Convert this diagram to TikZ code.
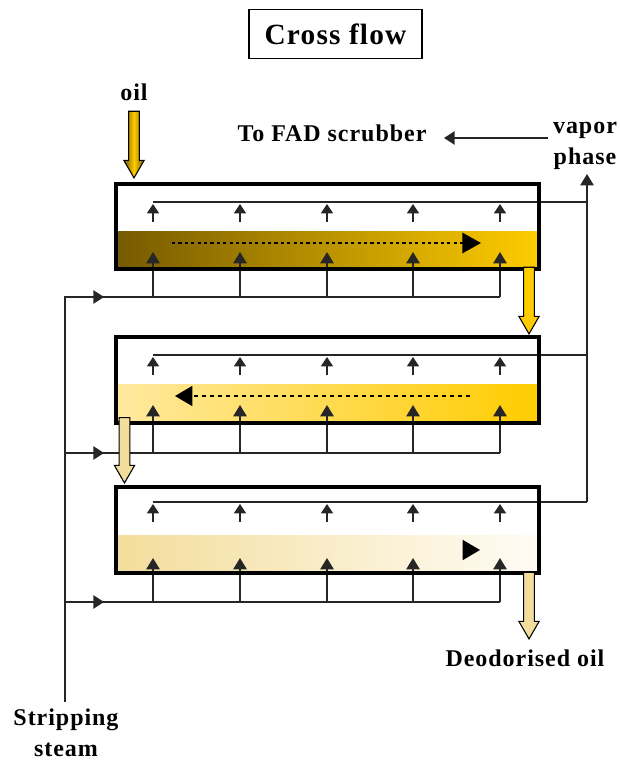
\documentclass[tikz,border=0pt]{standalone}
\usepackage{fontspec}
\setmainfont{Liberation Serif}
\usetikzlibrary{arrows.meta, shapes.arrows, calc}
\definecolor{oildark}{RGB}{118,90,0}
\definecolor{oilgold}{RGB}{255,204,0}
\definecolor{oillight}{RGB}{255,233,160}
\definecolor{oilpale}{RGB}{243,221,156}
\definecolor{oilclear}{RGB}{255,252,245}

\begin{document}
\begin{tikzpicture}[
  x=0.75pt, y=-0.75pt,
  lab/.style={font=\fontsize{18}{23.5}\selectfont\bfseries\addfontfeature{LetterSpace=4}, align=center, text=black},
  tank/.style={draw=black, line width=2.8pt, minimum width=317pt, minimum height=64pt, inner sep=0pt},
  liquid/.style={minimum width=316pt, inner sep=0pt},
  pipe/.style={line width=1.2pt, black!85},
  riserlow/.style={pipe, -{Triangle[length=8.5pt, width=10pt]}},
  riserup/.style={pipe, -{Triangle[length=7pt, width=9pt]}},
  flowtip/.style={pipe, -{Triangle[length=8pt, width=10pt]}},
  oilarrow/.style={single arrow, rotate=-90, anchor=tip, draw=black, line width=0.8pt, inner sep=3.6pt,
    minimum width=15pt, single arrow head extend=3.6pt, single arrow tip angle=60},
]
\useasboundingbox (0,0) rectangle (619,762);

% ---- liquid layers
\node[liquid, minimum height=28pt, left color=oildark, right color=oilgold] (liq1) at (327.5,250) {};
\node[liquid, minimum height=28pt, left color=oillight, right color=oilgold] (liq2) at (327.5,403.5) {};
\node[liquid, minimum height=28pt, left color=oilpale, right color=oilclear] (liq3) at (327.5,554) {};

% ---- junctions of the outer pipes
\coordinate (sp1) at (65,297);
\coordinate (sp2) at (65,453);
\coordinate (sp3) at (65,602);
\coordinate (spend) at (65,702);
\coordinate (sb1) at (500,297);
\coordinate (sb2) at (500,453);
\coordinate (sb3) at (500,602);
\coordinate (vt1) at (153,202);
\coordinate (vt2) at (153,355);
\coordinate (vt3) at (153,502);
\coordinate (vr1) at (587,202);
\coordinate (vr2) at (587,355);
\coordinate (vr3) at (587,502);
\coordinate (vtop) at (587,174);

% ---- risers, steam below and vapor above
\foreach \t/\ybot/\ylow/\yup/\yman in {1/297/252/222/204, 2/453/405/375/357, 3/602/558/522/504} {
  \foreach \i/\xx in {1/153, 2/240, 3/327, 4/413, 5/500} {
    \coordinate (ra\t\i) at (\xx,\ybot);
    \coordinate (rb\t\i) at (\xx,\ylow);
    \coordinate (rc\t\i) at (\xx,\yup);
    \coordinate (rd\t\i) at (\xx,\yman);
    \draw[riserlow] (ra\t\i) -- (rb\t\i);
    \draw[riserup] (rc\t\i) -- (rd\t\i);
  }
}

% ---- steam and vapor manifolds
\draw[pipe] (spend) -- (sp1) -- (sb1);
\draw[pipe] (sp2) -- (sb2);
\draw[pipe] (sp3) -- (sb3);
\draw[pipe] (vt1) -- (vr1);
\draw[pipe] (vt2) -- (vr2);
\draw[pipe] (vt3) -- (vr3);
\draw[riserlow] (vr3) -- (vtop);
\foreach \t/\yy in {1/297, 2/453, 3/602} {
  \coordinate (ta\t) at (85,\yy);
  \coordinate (tb\t) at (104,\yy);
  \draw[flowtip] (ta\t) -- (tb\t);
}

% ---- flow direction in the liquid
\coordinate (fa1) at (172,243);
\coordinate (fb1) at (481,243);
\coordinate (fa2) at (470,396);
\coordinate (fb2) at (175,396);
\coordinate (fa3) at (465,550);
\coordinate (fb3) at (480,550);
\draw[line width=2.2pt, dash pattern=on 2.4pt off 2.4pt, -{Triangle[length=14pt, width=15pt]}] (fa1) -- (fb1);
\draw[line width=1.2pt, dash pattern=on 3pt off 3pt, -{Triangle[length=13pt, width=15pt]}] (fa2) -- (fb2);
\draw[line width=1.2pt, -{Triangle[length=13pt, width=15pt]}] (fa3) -- (fb3);

% ---- tanks
\node[tank] (tank1) at (327.5,226.5) {};
\node[tank] (tank2) at (327.5,380) {};
\node[tank] (tank3) at (327.5,530) {};

% ---- block arrows for the oil
\node[oilarrow, minimum height=50pt, left color=oildark, right color=oildark, middle color=oilgold] (oilin) at (134,179) {};
\node[oilarrow, minimum height=50pt, fill=oilgold] (oil12) at (529,335) {};
\node[oilarrow, minimum height=49pt, fill=oilpale] (oil23) at (124.5,484) {};
\node[oilarrow, minimum height=50pt, fill=oilpale] (oilout) at (529,640) {};

% ---- labels
\node[draw=black, line width=1.2pt, minimum width=130pt, minimum height=37pt, inner sep=0pt,
  font=\fontsize{22}{24}\selectfont\bfseries\addfontfeature{LetterSpace=4}] (title) at (335.5,34) {Cross flow};
\node[lab] (oillab) at (134,92) {oil};
\node[lab] (scrub) at (332,133) {To FAD scrubber};
\node[lab] (vapor) at (585,146) {vapor\\phase};
\node[lab] (deo) at (525,658) {Deodorised oil};
\node[lab] (strip) at (66,733) {Stripping\\steam};

% ---- vapor leaving towards the scrubber
\coordinate (sca) at (548,138);
\coordinate (scb) at (444,138);
\draw[flowtip] (sca) -- (scb);

\end{tikzpicture}
\end{document}
